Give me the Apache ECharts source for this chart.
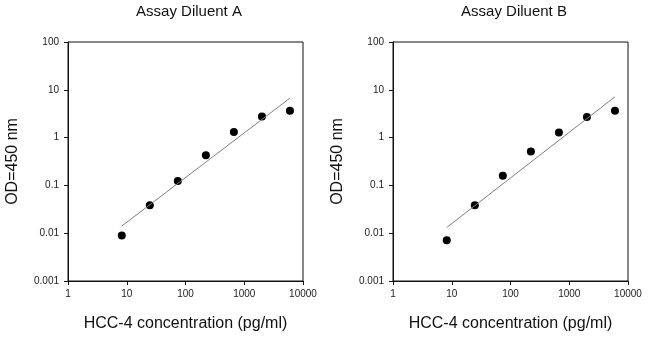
<!DOCTYPE html>
<html>
<head>
<meta charset="utf-8">
<script src="https://cdn.jsdelivr.net/npm/echarts@6/dist/echarts.min.js"></script>
<style>
html,body{margin:0;padding:0;background:#fff;}
#c{width:650px;height:337px;}
</style>
</head>
<body>
<div id="c"></div>
<script>
var titles = ['Assay Diluent A', 'Assay Diluent B'];
var conc = [8.23, 24.69, 74.07, 222.2, 666.7, 2000, 6000];
var odA = [0.0090, 0.0384, 0.124, 0.428, 1.31, 2.75, 3.66];
var odB = [0.0071, 0.0384, 0.160, 0.51, 1.28, 2.71, 3.66];
var fitX = [8.23, 6000];
var fitA = [0.0141, 6.70];
var fitB = [0.0132, 7.13];
var xTicks = ['1', '10', '100', '1000', '10000'];
var yTicks = ['0.001', '0.01', '0.1', '1', '10', '100'];
var xName = 'HCC-4 concentration (pg/ml)';
var yName = 'OD=450 nm';

var FONT = 'Liberation Sans, Arial, sans-serif';
var chart = echarts.init(document.getElementById('c'), null, {renderer: 'canvas'});

function xFmt(v) { var i = Math.round(Math.log10(v)); return xTicks[i] || ''; }
function yFmt(v) { var i = Math.round(Math.log10(v)) + 3; return yTicks[i] || ''; }

var lefts = [68, 393];
var grids = [], xAxes = [], yAxes = [], series = [];
var ods = [odA, odB], fits = [fitA, fitB];
for (var k = 0; k < 2; k++) {
  grids.push({left: lefts[k], top: 42, width: 235, height: 242, show: true, borderColor: '#111', borderWidth: 1, backgroundColor: 'transparent'});
  xAxes.push({
    type: 'log', logBase: 10, min: 1, max: 10000, gridIndex: k,
    axisLine: {show: true, lineStyle: {color: '#111', width: 1}},
    axisTick: {show: true, length: 4, lineStyle: {color: '#111'}},
    minorTick: {show: false},
    splitLine: {show: false},
    axisLabel: {formatter: xFmt, fontSize: 10, color: '#222', fontFamily: FONT, margin: 8},
    name: xName, nameLocation: 'middle', nameGap: 35,
    nameTextStyle: {fontSize: 16, color: '#111', fontFamily: FONT}
  });
  yAxes.push({
    type: 'log', logBase: 10, min: 0.001, max: 100, gridIndex: k,
    axisLine: {show: true, lineStyle: {color: '#111', width: 1}},
    axisTick: {show: true, length: 4, lineStyle: {color: '#111'}},
    splitLine: {show: false},
    axisLabel: {formatter: yFmt, fontSize: 10, color: '#222', fontFamily: FONT, margin: 9},
    name: yName, nameLocation: 'middle', nameGap: 47,
    nameTextStyle: {fontSize: 16, color: '#111', fontFamily: FONT}
  });
  var lineData = fitX.map(function (x, i) { return [x, fits[k][i]]; });
  var ptData = conc.map(function (x, i) { return [x, ods[k][i]]; });
  series.push({
    type: 'line', xAxisIndex: k, yAxisIndex: k, data: lineData, showSymbol: false,
    lineStyle: {color: '#808080', width: 1}, silent: true, animation: false
  });
  series.push({
    type: 'scatter', xAxisIndex: k, yAxisIndex: k, data: ptData, symbol: 'circle', symbolSize: 8,
    itemStyle: {color: '#000', opacity: 1}, animation: false
  });
}

chart.setOption({
  backgroundColor: '#fff',
  animation: false,
  title: [
    {text: titles[0], left: 184, top: -1, textAlign: 'center', textStyle: {fontSize: 15, fontWeight: 'normal', color: '#111', fontFamily: FONT}},
    {text: titles[1], left: 509, top: -1, textAlign: 'center', textStyle: {fontSize: 15, fontWeight: 'normal', color: '#111', fontFamily: FONT}}
  ],
  grid: grids,
  xAxis: xAxes,
  yAxis: yAxes,
  series: series
});
</script>
</body>
</html>
